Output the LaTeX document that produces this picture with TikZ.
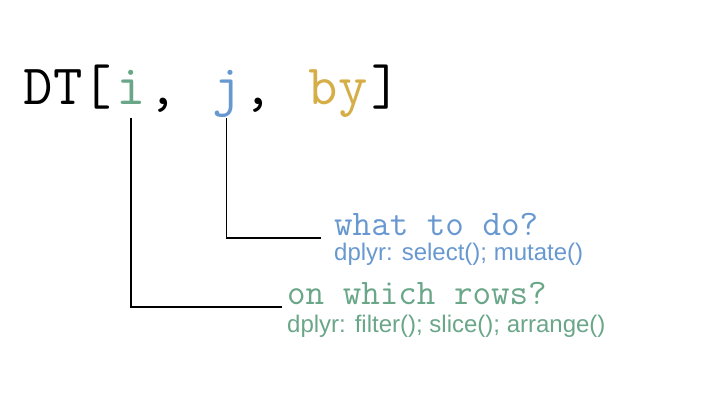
\documentclass[tikz,border=0pt]{standalone}
\usepackage{fontspec}
\setmainfont{Liberation Sans}
\usetikzlibrary{positioning}
\definecolor{igreen}{RGB}{106,166,136}
\definecolor{jblue}{RGB}{104,152,208}
\definecolor{bygold}{RGB}{214,174,72}
\tikzstyle{code}=[inner sep=0pt, anchor=base,
    font=\ttfamily\fontsize{57bp}{64bp}\selectfont]
\tikzstyle{ask}=[inner sep=0pt, anchor=base west,
    font=\ttfamily\fontsize{36bp}{40bp}\selectfont]
\tikzstyle{hint}=[inner sep=0pt, anchor=base west,
    font=\fontsize{24bp}{28bp}\selectfont]
\tikzstyle{leader}=[line width=1.5bp, draw=black]

\begin{document}
\begin{tikzpicture}[x=1bp,y=-1bp]
  \useasboundingbox (0,0) rectangle (720,405);
  \node[code] at (67.7,104) (open) {DT[};
  \node[code, text=igreen] at (131,104) (i) {i};
  \node[code] at (163,104) (ci) {,};
  \node[code, text=jblue] at (226.7,104) (j) {j};
  \node[code] at (258.5,104) (cj) {,};
  \node[code, text=bygold] at (338,104) (by) {by};
  \node[code] at (385.7,104) (close) {]};

  \node[ask, text=jblue] at (334,235) (what) {what to do?};
  \node[hint, text=jblue] at (334,260) (whathint) {dplyr: select(); mutate()};
  \node[ask, text=igreen] at (287,304) (rows) {on which rows?};
  \node[hint, text=igreen] at (287,332) (rowshint) {dplyr: filter(); slice(); arrange()};

  \draw[leader] ([yshift=-14bp]j.base) |- ([xshift=-13bp,yshift=-3bp]what.base west);
  \draw[leader] ([yshift=-14bp]i.base) |- ([xshift=-5bp,yshift=-3bp]rows.base west);
\end{tikzpicture}
\end{document}
